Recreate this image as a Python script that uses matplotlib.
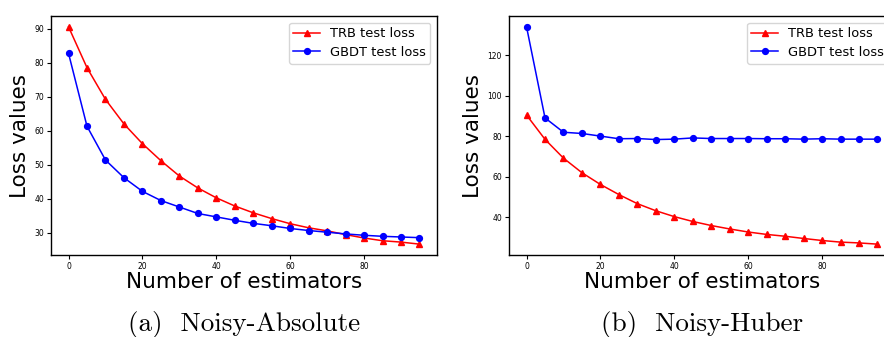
import matplotlib
matplotlib.use("Agg")
import matplotlib.pyplot as plt

n_estimators = [0, 5, 10, 15, 20, 25, 30, 35, 40, 45, 50, 55, 60, 65, 70, 75, 80, 85, 90, 95]

trb_absolute = [90.5, 78.5, 69.2, 62.0, 56.2, 51.2, 46.7, 43.2, 40.3, 37.9,
                35.9, 34.2, 32.7, 31.5, 30.6, 29.5, 28.5, 27.7, 27.3, 26.7]
gbdt_absolute = [82.7, 61.3, 51.4, 46.2, 42.2, 39.5, 37.6, 35.7, 34.7, 33.7,
                 32.8, 32.1, 31.3, 30.7, 30.2, 29.7, 29.3, 29.0, 28.8, 28.6]

trb_huber = [90.5, 78.5, 69.2, 62.0, 56.2, 51.2, 46.7, 43.2, 40.3, 37.9,
             35.9, 34.2, 32.7, 31.5, 30.6, 29.5, 28.5, 27.7, 27.3, 26.7]
gbdt_huber = [134.1, 89.1, 82.0, 81.4, 80.1, 78.8, 78.9, 78.4, 78.6, 79.2,
              78.9, 78.9, 78.9, 78.8, 78.8, 78.6, 78.8, 78.6, 78.6, 78.6]

captions = ["(a)  Noisy-Absolute", "(b)  Noisy-Huber"]
series_labels = ["TRB test loss", "GBDT test loss"]

W, H = 884, 337
fig = plt.figure(figsize=(W / 100, H / 100), dpi=100)

positions = [
    [51 / W, (H - 255) / H, 386 / W, 239 / H],
    [509 / W, (H - 255) / H, 386 / W, 239 / H],
]
data = [(trb_absolute, gbdt_absolute), (trb_huber, gbdt_huber)]

for pos, (trb, gbdt), cap in zip(positions, data, captions):
    ax = fig.add_axes(pos)
    ax.plot(n_estimators, trb, color="red", marker="^", markersize=4.2,
            linewidth=1.1, label=series_labels[0])
    ax.plot(n_estimators, gbdt, color="blue", marker="o", markersize=4.2,
            linewidth=1.1, label=series_labels[1])
    ax.set_xticks([0, 20, 40, 60, 80])
    ax.tick_params(labelsize=5.5, length=3, width=0.8, pad=2)
    ax.set_xlabel("Number of estimators", fontsize=15.5, labelpad=1)
    ax.set_ylabel("Loss values", fontsize=15.5, labelpad=3)
    ax.legend(loc="upper right", fontsize=9.4, handlelength=2.0,
              borderpad=0.35, labelspacing=0.45, framealpha=0.8)
    for s in ax.spines.values():
        s.set_linewidth(1.0)
    cx = pos[0] + pos[2] / 2
    fig.text(cx, 1 - 324 / H, cap, ha="center", va="center",
             fontsize=19.5, family="cmr10")

fig.savefig("out.png", dpi=100)
